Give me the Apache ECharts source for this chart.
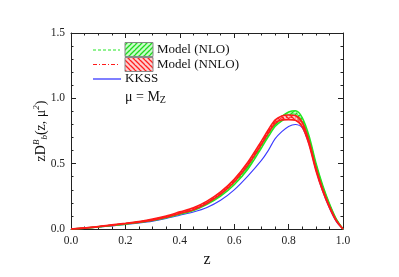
<!DOCTYPE html>
<html><head><meta charset="utf-8">
<script src="https://cdn.jsdelivr.net/npm/echarts@6/dist/echarts.min.js"></script>
<style>html,body{margin:0;padding:0;background:#fff}#c{width:399px;height:277px}</style>
</head><body><div id="c"></div>
<script>
const zVals   = [0, .05, .1, .15, .2, .25, .3, .35, .4, .45, .5, .55, .6, .65, .7, .725, .75, .775, .8, .825, .85, .875, .9, .925, .95, .975, 1];
const nloMid  = [0, .007, .016, .027, .039, .052, .068, .090, .118, .147, .195, .260, .350, .470, .635, .720, .800, .845, .875, .880, .835, .700, .500, .330, .190, .075, 0];
const nloLow  = [0, .006, .015, .026, .037, .050, .065, .086, .113, .141, .188, .251, .339, .457, .620, .705, .784, .828, .855, .860, .817, .686, .490, .323, .185, .072, 0];
const nloHigh = [0, .008, .017, .028, .041, .054, .071, .094, .123, .153, .202, .269, .361, .483, .650, .735, .816, .862, .895, .905, .853, .714, .510, .337, .195, .078, 0];
const nnloMid = [0, .008, .018, .030, .042, .055, .072, .095, .125, .155, .205, .275, .370, .500, .660, .745, .820, .850, .855, .850, .800, .660, .460, .300, .170, .065, 0];
const nnloLow = [0, .007, .017, .028, .040, .052, .068, .090, .119, .148, .197, .266, .360, .489, .647, .732, .807, .835, .837, .832, .784, .647, .450, .293, .165, .062, 0];
const nnloHigh= [0, .009, .019, .032, .044, .058, .076, .100, .131, .162, .213, .284, .380, .511, .673, .758, .833, .865, .873, .868, .816, .673, .470, .307, .175, .068, 0];
const kkss    = [0, .006, .014, .024, .035, .046, .060, .080, .105, .130, .165, .220, .300, .405, .525, .600, .690, .745, .785, .800, .775, .650, .455, .290, .160, .058, 0];
const xTicks = [0, 0.2, 0.4, 0.6, 0.8, 1.0];
const yTicks = [0, 0.5, 1.0, 1.5];

const GREEN = '#22e622', RED = '#ff1a1a', BLUE = '#3a3aff';
function hatch(line, bg, dir) {
  const c = document.createElement('canvas'); c.width = c.height = 5;
  const g = c.getContext('2d');
  g.fillStyle = bg; g.fillRect(0, 0, 5, 5);
  g.strokeStyle = line; g.lineWidth = 1.3; g.beginPath();
  for (let k = -5; k <= 10; k += 5) {
    if (dir > 0) { g.moveTo(k - 5, 5); g.lineTo(k + 5, -5); }
    else { g.moveTo(k - 5, -5); g.lineTo(k + 5, 5); }
  }
  g.stroke();
  return c;
}
const gPat = hatch('#1ed81e', '#c8ffc8', 1);
const rPat = hatch('#ff2020', '#ffd0d0', -1);
const pair = a => a.map((v, i) => [zVals[i], v]);
const SERIF = 'Liberation Serif';

function band(low, high, pat, z) {
  return {
    type: 'custom', data: [[0, 0]], silent: true, z: z, clip: true,
    renderItem: function (params, api) {
      const pts = [];
      for (let i = 0; i < zVals.length; i++) pts.push(api.coord([zVals[i], high[i]]));
      for (let i = zVals.length - 1; i >= 0; i--) pts.push(api.coord([zVals[i], low[i]]));
      return { type: 'polygon', shape: { points: pts }, style: { fill: { image: pat, repeat: 'repeat' }, stroke: null } };
    }
  };
}
function line(data, color, width, dash, z) {
  return { type: 'line', data: pair(data), symbol: 'none', smooth: 0.3, silent: true, z: z,
    lineStyle: { color: color, width: width, type: dash || 'solid' } };
}

const chart = echarts.init(document.getElementById('c'));
const axisCommon = {
  axisLine: { show: true, onZero: false, lineStyle: { color: '#222', width: 1 } },
  axisTick: { show: true, inside: true, length: 5, lineStyle: { color: '#222' } },
  splitLine: { show: false }
};
const minor = n => ({ minorTick: { show: true, splitNumber: n, length: 2.5, lineStyle: { color: '#222' } } });
chart.setOption({
  animation: false,
  grid: { left: 71, right: 56, top: 33, bottom: 48 },
  xAxis: [
    Object.assign({ type: 'value', min: 0, max: 1, interval: 0.2, position: 'bottom',
      name: 'z', nameLocation: 'middle', nameGap: 14,
      nameTextStyle: { fontFamily: SERIF, fontSize: 16, color: '#111' },
      axisLabel: { fontFamily: SERIF, fontSize: 11.5, color: '#222', margin: 6,
        formatter: v => xTicks.includes(+v.toFixed(2)) ? v.toFixed(1) : '' } },
      axisCommon, minor(4)),
    Object.assign({ type: 'value', min: 0, max: 1, interval: 0.2, position: 'top',
      axisLabel: { show: false } }, axisCommon, minor(4))
  ],
  yAxis: [
    Object.assign({ type: 'value', min: 0, max: 1.5, interval: 0.5, position: 'left',
      axisLabel: { fontFamily: SERIF, fontSize: 11.5, color: '#222', margin: 6,
        formatter: v => yTicks.includes(+v.toFixed(2)) ? v.toFixed(1) : '' } },
      axisCommon, minor(5)),
    Object.assign({ type: 'value', min: 0, max: 1.5, interval: 0.5, position: 'right',
      axisLabel: { show: false } }, axisCommon, minor(5))
  ],
  series: [
    line(kkss, BLUE, 1.1, null, 1),
    band(nloLow, nloHigh, gPat, 2),
    line(nloLow, GREEN, 1.5, null, 3),
    line(nloHigh, GREEN, 1.5, null, 3),
    line(nloMid, GREEN, 1, [3, 2], 3),
    band(nnloLow, nnloHigh, rPat, 4),
    line(nnloLow, RED, 1.6, null, 5),
    line(nnloHigh, RED, 1.6, null, 5),
    line(nnloMid, RED, 1, [4, 2, 1, 2], 5)
  ],
  graphic: [
    { type: 'line', shape: { x1: 93, y1: 50, x2: 120, y2: 50 }, style: { stroke: GREEN, lineWidth: 1, lineDash: [3, 2] } },
    { type: 'rect', shape: { x: 125, y: 42.5, width: 28, height: 14 }, style: { fill: { image: gPat, repeat: 'repeat' }, stroke: '#888', lineWidth: 1 } },
    { type: 'text', x: 157, y: 50, style: { text: 'Model (NLO)', font: '13px "Liberation Serif"', fill: '#111', verticalAlign: 'middle' } },
    { type: 'line', shape: { x1: 93, y1: 64.5, x2: 120, y2: 64.5 }, style: { stroke: RED, lineWidth: 1, lineDash: [4, 2, 1, 2] } },
    { type: 'rect', shape: { x: 125, y: 57.5, width: 28, height: 14 }, style: { fill: { image: rPat, repeat: 'repeat' }, stroke: '#888', lineWidth: 1 } },
    { type: 'text', x: 157, y: 64.5, style: { text: 'Model (NNLO)', font: '13px "Liberation Serif"', fill: '#111', verticalAlign: 'middle' } },
    { type: 'line', shape: { x1: 93, y1: 79, x2: 121, y2: 79 }, style: { stroke: BLUE, lineWidth: 1.3 } },
    { type: 'text', x: 125, y: 79, style: { text: 'KKSS', font: '13px "Liberation Serif"', fill: '#111', verticalAlign: 'middle' } },
    { type: 'text', x: 125, y: 97, style: { text: 'μ = M{s|Z}', font: '14px "Liberation Serif"', fill: '#111', verticalAlign: 'middle',
        rich: { s: { fontSize: 10, fontFamily: SERIF, verticalAlign: 'bottom', padding: [6, 0, 0, 0] } } } },
    { type: 'text', x: 41, y: 131, rotation: Math.PI / 2,
      style: { text: 'zD{sup|B}{sub|b}(z, μ{sup|2})', font: '14px "Liberation Serif"', fill: '#111',
        align: 'center', verticalAlign: 'middle',
        rich: {
          sup: { fontSize: 9, fontFamily: SERIF, fontStyle: 'italic', padding: [0, 0, 8, 0] },
          sub: { fontSize: 9, fontFamily: SERIF, fontStyle: 'italic', padding: [8, 0, 0, 0] }
        } } }
  ]
});
</script></body></html>
